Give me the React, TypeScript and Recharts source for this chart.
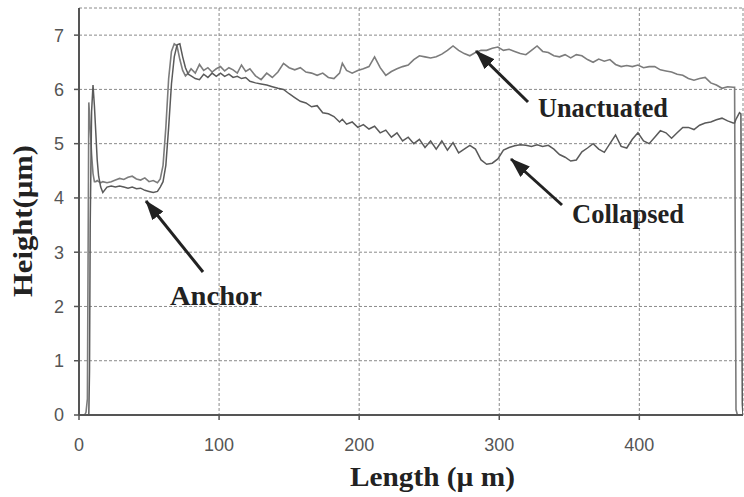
import { LineChart, Line, XAxis, YAxis, CartesianGrid } from 'recharts';

// length along the beam (µm)
const lengthUm = [
  4, 5, 6, 6.5, 7, 7.5, 8, 9, 10, 11, 12, 13, 14, 15.5, 17, 20, 23, 26, 29, 32, 35, 38, 41, 44, 47, 50, 53, 56, 58, 60,
  62, 64, 66, 68, 70, 72, 74, 76, 78, 80, 83, 86, 89, 92, 95, 98, 101, 104, 107, 110, 113, 116, 119, 122,
  126, 130, 134, 138, 142, 146, 150, 154, 158, 162, 166, 170, 174, 178, 182, 186, 188, 191, 195, 199,
  203, 207, 211, 215, 219, 223, 227, 231, 235, 239, 243, 247, 251, 255, 259, 263, 267, 271, 275, 279,
  283, 287, 291, 295, 299, 303, 307, 311, 315, 319, 323, 327, 331, 335, 339, 343, 347, 351, 355, 359,
  363, 367, 371, 375, 379, 383, 387, 391, 395, 399, 403, 407, 411, 415, 419, 423, 427, 431, 435, 439,
  443, 447, 451, 455, 459, 463, 467, 468, 469, 470, 471.5, 472.5, 473.5, 474,
];

const unactuated = [
  0, 0.05, 0.3, 3.0, 5.76, 5.55, 5.3, 4.8, 4.45, 4.3, 4.3, 4.32, 4.3, 4.28, 4.3, 4.28, 4.3, 4.33, 4.36, 4.34, 4.38, 4.4, 4.35, 4.33, 4.37, 4.3, 4.32, 4.28, 4.35, 4.6,
  5.3, 6.2, 6.7, 6.84, 6.8, 6.55, 6.35, 6.25, 6.3, 6.38, 6.3, 6.46, 6.35, 6.4, 6.32, 6.38, 6.42, 6.34, 6.4, 6.36, 6.3, 6.45, 6.33, 6.38,
  6.25, 6.18, 6.3, 6.22, 6.32, 6.48, 6.4, 6.36, 6.4, 6.32, 6.3, 6.26, 6.3, 6.22, 6.2, 6.3, 6.48, 6.35, 6.3, 6.35,
  6.38, 6.42, 6.6, 6.4, 6.26, 6.33, 6.38, 6.42, 6.45, 6.55, 6.62, 6.6, 6.58, 6.6, 6.65, 6.72, 6.8, 6.72, 6.66, 6.62,
  6.68, 6.72, 6.72, 6.76, 6.78, 6.72, 6.74, 6.7, 6.66, 6.64, 6.72, 6.8, 6.7, 6.68, 6.62, 6.6, 6.64, 6.58, 6.64, 6.62,
  6.55, 6.5, 6.56, 6.52, 6.55, 6.46, 6.42, 6.44, 6.42, 6.45, 6.4, 6.42, 6.42, 6.36, 6.34, 6.32, 6.28, 6.26, 6.2, 6.17,
  6.2, 6.22, 6.12, 6.08, 6.02, 6.05, 6.04, 6.04, 0.1, 0, 0, 0, 0, 0,
];

const collapsed = [
  0, 0, 0, 0, 0, 0.8, 3.5, 5.6, 6.08, 5.7, 5.2, 4.7, 4.4, 4.2, 4.1, 4.2, 4.22, 4.2, 4.22, 4.2, 4.18, 4.2, 4.17, 4.18, 4.14, 4.12, 4.1, 4.12, 4.2, 4.3,
  4.6, 5.3, 6.1, 6.6, 6.82, 6.84, 6.6, 6.4, 6.28, 6.25, 6.2, 6.18, 6.28, 6.22, 6.3, 6.24, 6.3, 6.24, 6.28, 6.22, 6.24, 6.2, 6.22, 6.15,
  6.12, 6.1, 6.08, 6.05, 6.02, 6.0, 5.92, 5.85, 5.78, 5.75, 5.68, 5.7, 5.57, 5.55, 5.5, 5.4, 5.45, 5.36, 5.4, 5.3,
  5.35, 5.27, 5.32, 5.2, 5.25, 5.12, 5.2, 5.05, 5.12, 5.0, 5.08, 4.93, 5.05, 4.9, 5.05, 4.88, 5.02, 4.83, 4.9, 4.97,
  4.9, 4.7, 4.62, 4.64, 4.72, 4.88, 4.93, 4.96, 4.98, 4.97, 4.95, 4.98, 4.95, 4.97, 4.9, 4.8, 4.75, 4.68, 4.7, 4.85,
  4.92, 5.0, 4.9, 4.84, 5.0, 5.16, 4.95, 4.92, 5.08, 5.2, 5.05, 5.0, 5.12, 5.24, 5.2, 5.1, 5.2, 5.3, 5.3, 5.26,
  5.34, 5.38, 5.4, 5.44, 5.47, 5.42, 5.38, 5.38, 5.45, 5.5, 5.57, 5.55, 0.2, 0,
];

const xTicks = [0, 100, 200, 300, 400];
const yTicks = [0, 1, 2, 3, 4, 5, 6, 7];

const data = lengthUm.map((x, i) => ({ x, unactuated: unactuated[i], collapsed: collapsed[i] }));

const serif = '"Liberation Serif", "Times New Roman", serif';
const tickStyle = { fill: '#555', fontSize: 18, fontFamily: '"Liberation Sans", Arial, sans-serif' };

export default function App() {
  document.body.style.margin = '0';
  return (
    <div style={{ position: 'relative', width: 744, height: 497, background: '#fff' }}>
      <LineChart width={744} height={497} data={data} margin={{ top: 8, right: 1, left: 39, bottom: 52 }}>
        <CartesianGrid xAxisId="main" yAxisId="main" stroke="#8a8a8a" strokeWidth={1} strokeDasharray="3 2" />
        <XAxis
          xAxisId="main"
          dataKey="x"
          type="number"
          domain={[0, 474]}
          ticks={xTicks}
          height={30}
          tick={tickStyle}
          tickSize={5}
          tickMargin={18}
          axisLine={{ stroke: '#555', strokeWidth: 2 }}
          tickLine={{ stroke: '#555', strokeWidth: 1.5 }}
          allowDataOverflow
        />
        <XAxis xAxisId="top" orientation="top" dataKey="x" type="number" domain={[0, 474]} height={0} tick={false} tickLine={false} axisLine={{ stroke: '#555', strokeWidth: 2 }} />
        <YAxis
          yAxisId="main"
          type="number"
          domain={[0, 7.5]}
          ticks={yTicks}
          width={40}
          tick={tickStyle}
          tickSize={5}
          tickMargin={10}
          axisLine={{ stroke: '#555', strokeWidth: 2 }}
          tickLine={{ stroke: '#555', strokeWidth: 1.5 }}
          allowDataOverflow
        />
        <YAxis yAxisId="right" orientation="right" type="number" domain={[0, 7.5]} width={0} tick={false} tickLine={false} axisLine={{ stroke: '#777', strokeWidth: 1.5 }} />
        <Line xAxisId="main" yAxisId="main" type="linear" dataKey="unactuated" stroke="#7c7c7c" strokeWidth={1.6} dot={false} isAnimationActive={false} />
        <Line xAxisId="main" yAxisId="main" type="linear" dataKey="collapsed" stroke="#5a5a5a" strokeWidth={1.5} dot={false} isAnimationActive={false} />
      </LineChart>
      <svg width={744} height={497} style={{ position: 'absolute', left: 0, top: 0, pointerEvents: 'none' }}>
        <defs>
          <marker id="ah" markerUnits="userSpaceOnUse" markerWidth={20} markerHeight={14} refX={19} refY={7} orient="auto">
            <path d="M0,0 L20,7 L0,14 z" fill="#222" />
          </marker>
        </defs>
        <g stroke="#222" strokeWidth={3} markerEnd="url(#ah)">
          <line x1={203} y1={272} x2={146} y2={201} />
          <line x1={528} y1={102} x2={476} y2={51} />
          <line x1={562} y1={205} x2={511} y2={159} />
        </g>
        <g fontFamily={serif} fontWeight="bold" fill="#222" fontSize={28}>
          <text x={170} y={305} textLength={92} lengthAdjust="spacingAndGlyphs">Anchor</text>
          <text x={538} y={117} textLength={130} lengthAdjust="spacingAndGlyphs">Unactuated</text>
          <text x={572} y={223} textLength={112} lengthAdjust="spacingAndGlyphs">Collapsed</text>
          <text x={350} y={486} textLength={165} lengthAdjust="spacingAndGlyphs">Length (µ m)</text>
          <text transform="translate(32,297) rotate(-90)" textLength={152} lengthAdjust="spacingAndGlyphs">Height(µm)</text>
        </g>
      </svg>
    </div>
  );
}
